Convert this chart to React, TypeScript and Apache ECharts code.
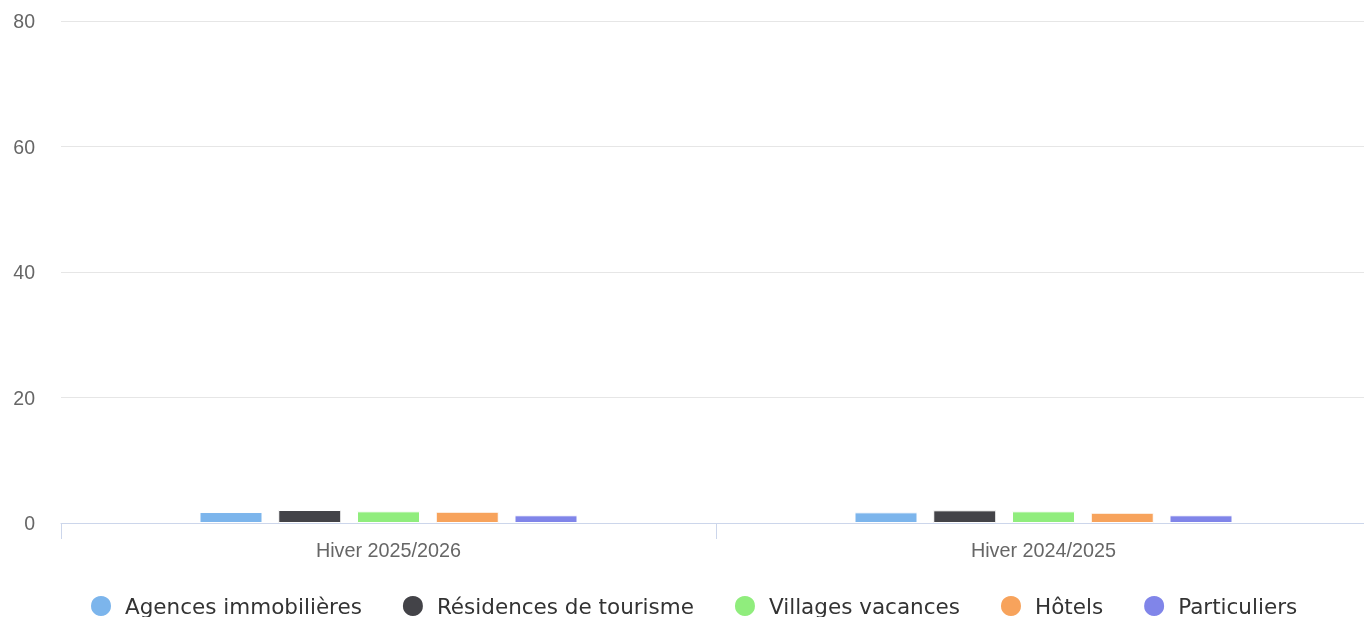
import React, { useEffect, useRef } from "react";
import * as echarts from "echarts";

const categories = ["Hiver 2025/2026", "Hiver 2024/2025"];
const seriesNames = ["Agences immobilières", "Résidences de tourisme", "Villages vacances", "Hôtels", "Particuliers"];
const colors = ["#7cb5ec", "#434348", "#90ed7d", "#f7a35c", "#8085e9"];
const agences = [1.75, 1.7];
const residences = [2.07, 2.02];
const villages = [1.86, 1.86];
const hotels = [1.8, 1.64];
const particuliers = [1.23, 1.23];
const seriesValues = [agences, residences, villages, hotels, particuliers];

export default function App() {
  const ref = useRef<HTMLDivElement>(null);
  useEffect(() => {
    document.body.style.margin = "0";
    const chart = echarts.init(ref.current!, null, { renderer: "svg" });
    chart.setOption({
      animation: false,
      color: colors,
      grid: { left: 61, width: 1310, top: 21, bottom: 94, outerBoundsMode: "none", containLabel: false },
      legend: {
        left: 89,
        top: 594,
        padding: 0,
        icon: "circle",
        itemWidth: 22,
        itemHeight: 22,
        itemGap: 39,
        textStyle: { fontFamily: "DejaVu Sans", fontSize: 21.5, color: "#333", padding: [0, 0, 0, 8] },
        data: seriesNames,
      },
      xAxis: {
        type: "category",
        z: 5,
        data: categories,
        axisLine: { lineStyle: { color: "#ccd6eb", width: 1 } },
        axisTick: { show: true, length: 16, lineStyle: { color: "#ccd6eb" } },
        axisLabel: { fontFamily: "Liberation Sans", fontSize: 19.8, color: "#666", margin: 17 },
      },
      yAxis: {
        type: "value",
        z: 0,
        min: 0,
        max: 80,
        interval: 20,
        axisLine: { show: false },
        axisTick: { show: false },
        splitLine: { lineStyle: { color: "#e6e6e6" } },
        axisLabel: { fontFamily: "Liberation Sans", fontSize: 19.5, color: "#666", margin: 26 },
      },
      series: seriesNames.map((name, i) => ({
        name,
        type: "bar",
        data: seriesValues[i],
        barWidth: 63,
        barGap: "25%",
        itemStyle: { borderColor: "#fff", borderWidth: 1 },
      })),
    });
    return () => chart.dispose();
  }, []);
  return <div ref={ref} style={{ position: "fixed", left: 0, top: 0, width: 1364, height: 617 }} />;
}
